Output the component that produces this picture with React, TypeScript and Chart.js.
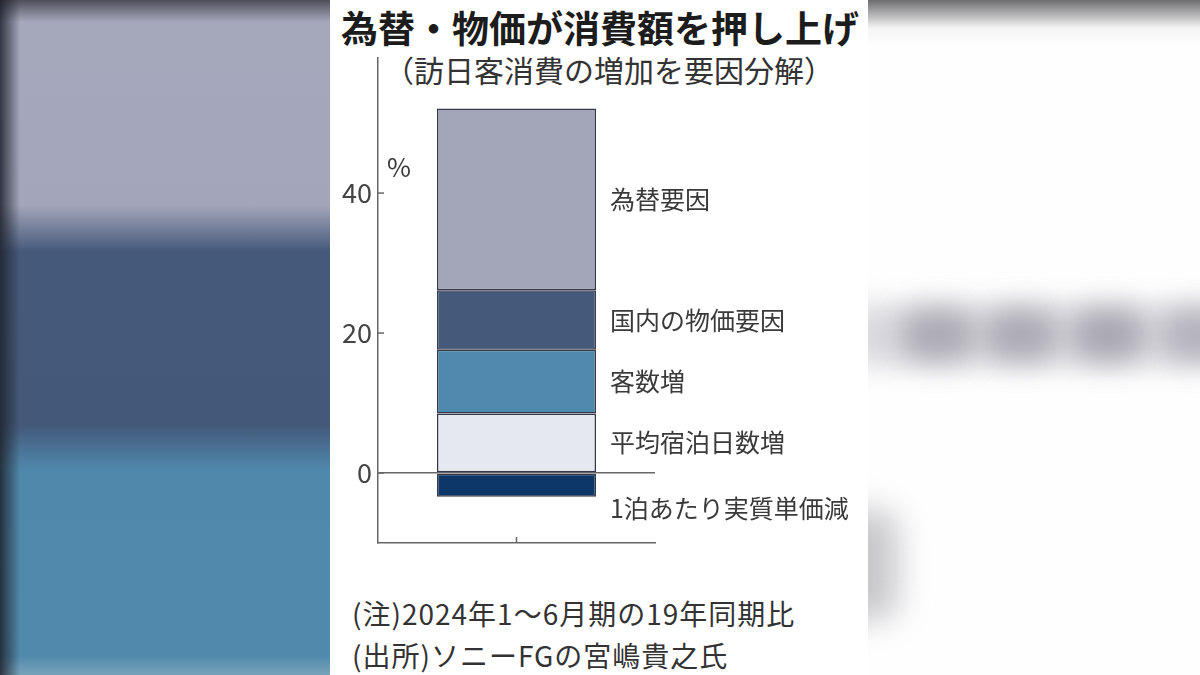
import { useEffect, useRef } from "react";
import Chart from "chart.js/auto";

const FONT = '"Noto Sans CJK JP", "Noto Sans", sans-serif';

const title = "為替・物価が消費額を押し上げ";
const subtitle = "（訪日客消費の増加を要因分解）";
const notes = ["(注)2024年1～6月期の19年同期比", "(出所)ソニーFGの宮嶋貴之氏"];
const unitLabel = "%";

// one stacked bar, bottom segment first
const categories = [""];
const factorLabels = ["平均宿泊日数増", "客数増", "国内の物価要因", "為替要因", "1泊あたり実質単価減"];
const factorValues = [8.5, 9.1, 8.5, 26.0, -3.4];
const yTicks = [0, 20, 40];
const yMin = -10;
const yMax = 59.3;

const factorColors = ["#e6e8ef", "#4f89ad", "#45597b", "#a3a6b9", "#0d3767"];

// inward tick marks, unit and labels beside each segment
const annotate = {
  id: "annotate",
  afterDatasetsDraw(chart: any) {
    const { ctx, chartArea, scales } = chart;
    const y = scales.y;
    const x = scales.x;
    ctx.save();
    ctx.strokeStyle = "#666";
    ctx.lineWidth = 1.5;
    yTicks.forEach((v) => {
      const py = y.getPixelForValue(v);
      ctx.beginPath();
      ctx.moveTo(chartArea.left, py);
      ctx.lineTo(chartArea.left + 6, py);
      ctx.stroke();
    });
    const px = x.getPixelForValue(0);
    ctx.beginPath();
    ctx.moveTo(px, chartArea.bottom);
    ctx.lineTo(px, chartArea.bottom - 6);
    ctx.stroke();

    ctx.fillStyle = "#3a3a3a";
    ctx.textAlign = "left";
    ctx.textBaseline = "middle";
    ctx.font = `26px ${FONT}`;
    ctx.fillText(unitLabel, chartArea.left + 9, y.getPixelForValue(40) - 26);

    ctx.font = `25px ${FONT}`;
    chart.data.datasets.forEach((ds: any, i: number) => {
      const el = chart.getDatasetMeta(i).data[0];
      const p = el.getProps(["x", "y", "base", "width"], true);
      const v = ds.data[0];
      const ly = v >= 0 ? (p.y + p.base) / 2 : Math.max(p.y, p.base) + 12;
      ctx.fillText(ds.label, p.x + p.width / 2 + 14, ly);
    });
    ctx.restore();
  },
};

const FactorChart = () => {
  const canvasRef = useRef<HTMLCanvasElement>(null);
  const chartRef = useRef<Chart | null>(null);

  useEffect(() => {
    if (!canvasRef.current) return;
    const ctx = canvasRef.current.getContext("2d");
    if (!ctx) return;
    if (chartRef.current) chartRef.current.destroy();

    chartRef.current = new Chart(ctx, {
      type: "bar",
      data: {
        labels: categories,
        datasets: factorLabels.map((label, i) => ({
          label,
          data: [factorValues[i]],
          backgroundColor: factorColors[i],
          borderColor: "#34384a",
          borderWidth: 1.5,
          borderSkipped: false,
          barPercentage: 0.574,
          categoryPercentage: 1,
        })),
      },
      options: {
        responsive: true,
        maintainAspectRatio: false,
        animation: false,
        layout: { padding: { top: 8, right: 213, left: 0, bottom: 0 } },
        plugins: {
          legend: { display: false },
          tooltip: { enabled: false },
        },
        scales: {
          x: {
            stacked: true,
            grid: { display: false },
            ticks: { display: false },
            border: { display: true, color: "#666", width: 1.5 },
            afterFit: (scale: any) => {
              scale.height = 7;
              scale.paddingLeft = 0;
              scale.paddingRight = 0;
            },
          },
          y: {
            stacked: true,
            min: yMin,
            max: yMax,
            afterBuildTicks: (scale: any) => {
              scale.ticks = yTicks.map((v) => ({ value: v }));
            },
            afterFit: (scale: any) => {
              scale.width = 48;
              scale.paddingTop = 0;
              scale.paddingBottom = 0;
            },
            ticks: {
              padding: 6,
              color: "#444",
              font: { family: FONT, size: 27 },
            },
            grid: {
              drawTicks: false,
              color: (c: any) => (c.tick && c.tick.value === 0 ? "#666" : "rgba(0,0,0,0)"),
              lineWidth: 1.5,
            },
            border: { display: true, color: "#666", width: 1.5 },
          },
        },
      },
      plugins: [annotate],
    });

    return () => {
      if (chartRef.current) {
        chartRef.current.destroy();
        chartRef.current = null;
      }
    };
  }, []);

  return (
    <div style={{ position: "absolute", left: 330, top: 50, width: 538, height: 500 }}>
      <canvas ref={canvasRef} />
    </div>
  );
};

const blob = (left: number, top: number, w: number, h: number, color: string, blur: number) => (
  <div
    style={{
      position: "absolute",
      left,
      top,
      width: w,
      height: h,
      background: color,
      filter: `blur(${blur}px)`,
      borderRadius: 20,
    }}
  />
);

const App = () => {
  return (
    <div
      style={{
        position: "fixed",
        left: 0,
        top: 0,
        width: 1200,
        height: 675,
        overflow: "hidden",
        background: "#fff",
        fontFamily: FONT,
      }}
    >
      {/* blurred backdrop, left */}
      <div
        style={{
          position: "absolute",
          left: 0,
          top: 0,
          width: 330,
          height: 675,
          background:
            "linear-gradient(to right, rgba(30,34,44,0.85) 0px, rgba(30,34,44,0) 20px)," +
            "linear-gradient(to bottom, #4f4e5a 0px, #a5a7bb 22px, #a3a6ba 205px, #45597b 252px, #44597a 425px, #4f88ab 470px, #5089ab 655px, #77a2bb 675px)",
        }}
      />
      {/* blurred backdrop, right */}
      <div
        style={{
          position: "absolute",
          left: 868,
          top: 0,
          width: 332,
          height: 675,
          overflow: "hidden",
          background: "linear-gradient(to bottom, #6d6d70 0px, #f4f4f4 28px, #fefefe 45px, #fefefe 675px)",
        }}
      >
        {blob(-20, 305, 380, 60, "rgba(200,199,206,0.7)", 14)}
        {blob(35, 310, 70, 50, "rgba(160,158,168,0.8)", 14)}
        {blob(118, 310, 70, 50, "rgba(160,158,168,0.8)", 14)}
        {blob(205, 310, 70, 50, "rgba(160,158,168,0.85)", 14)}
        {blob(295, 310, 70, 50, "rgba(170,168,178,0.8)", 14)}
        {blob(-40, 510, 70, 110, "rgba(185,185,190,0.8)", 16)}
      </div>

      {/* center panel */}
      <div style={{ position: "absolute", left: 330, top: 0, width: 538, height: 675, background: "#fff" }} />

      <div
        style={{
          position: "absolute",
          left: 341,
          top: 7,
          fontSize: 37,
          lineHeight: "40px",
          fontWeight: 700,
          color: "#1c1c1c",
          whiteSpace: "nowrap",
        }}
      >
        {title}
      </div>
      <div
        style={{
          position: "absolute",
          left: 384,
          top: 53,
          fontSize: 30,
          lineHeight: "32px",
          color: "#333",
          whiteSpace: "nowrap",
        }}
      >
        {subtitle}
      </div>

      <FactorChart />

      {notes.map((n, i) => (
        <div
          key={i}
          style={{
            position: "absolute",
            left: 352,
            top: 597 + i * 42,
            fontSize: 28,
            lineHeight: "32px",
            letterSpacing: "1px",
            color: "#333",
            whiteSpace: "nowrap",
          }}
        >
          {n}
        </div>
      ))}
    </div>
  );
};

export default App;
